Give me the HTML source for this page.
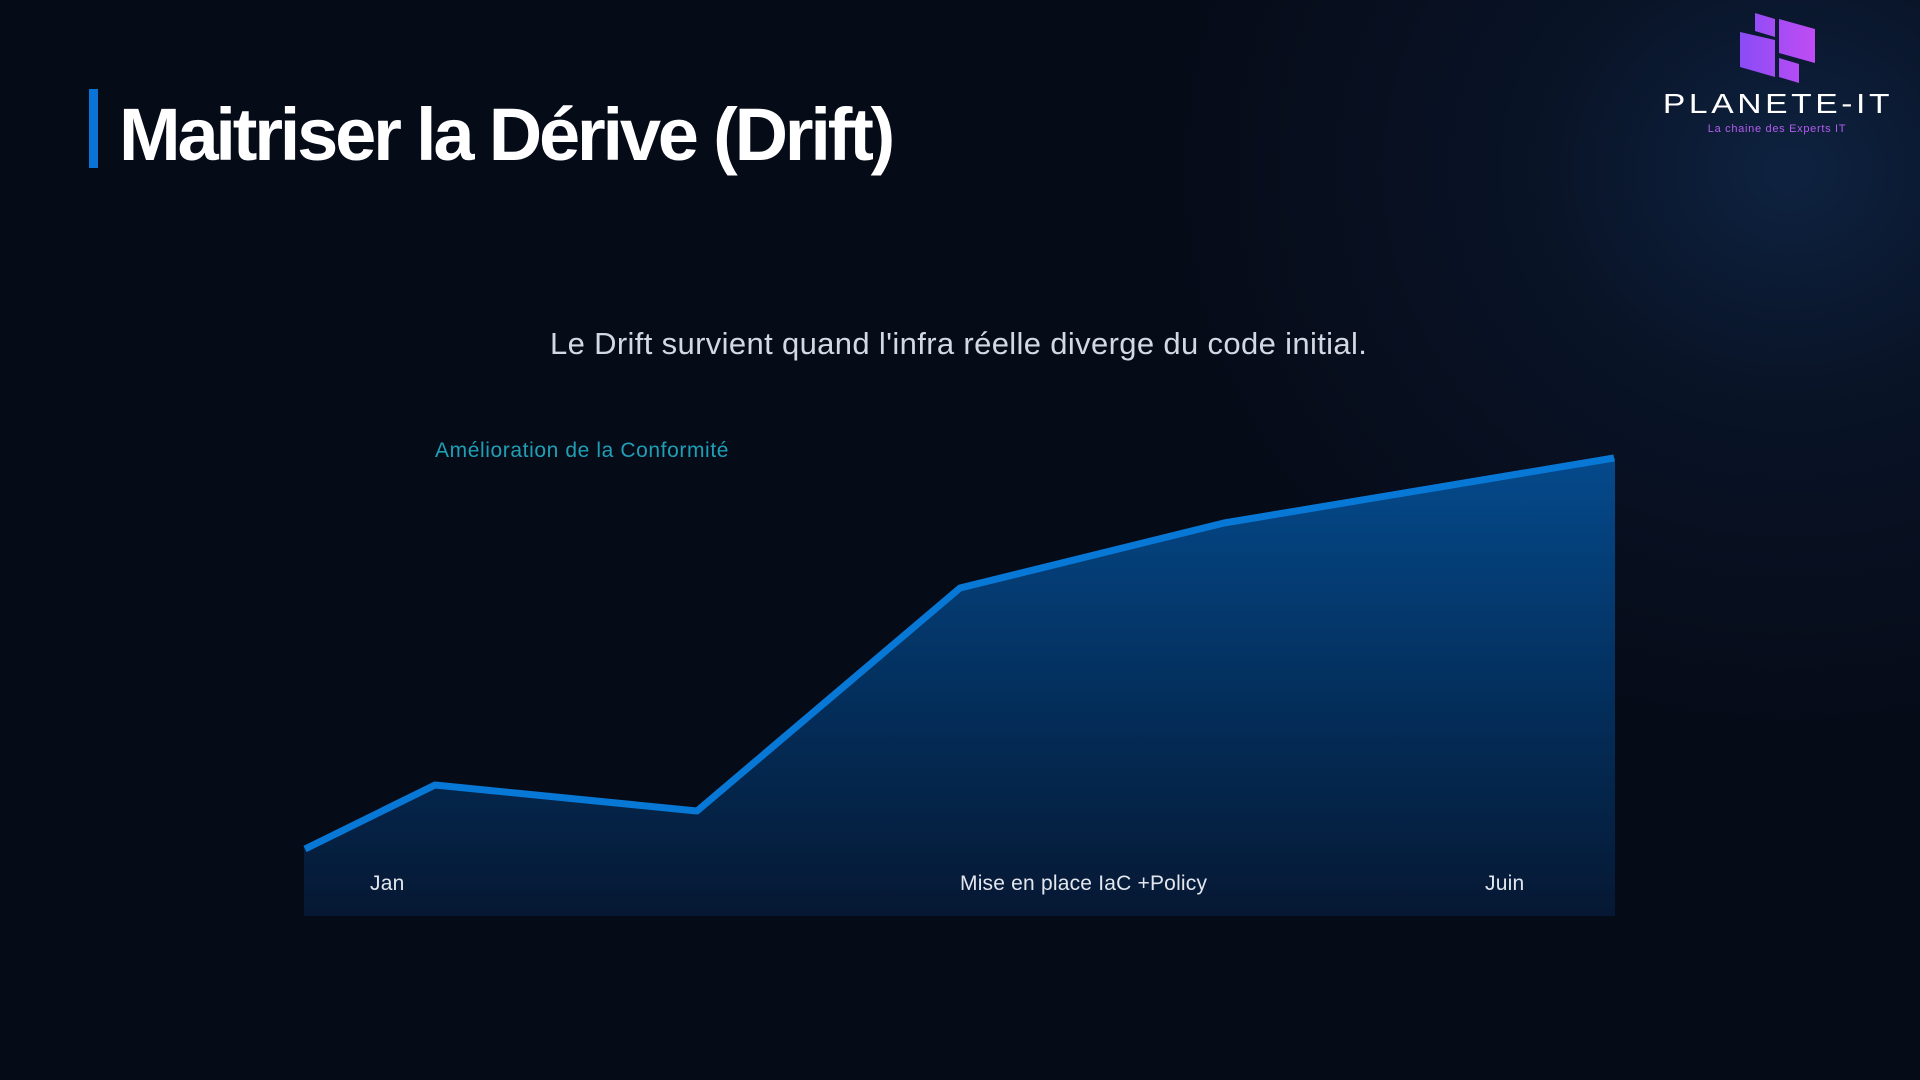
<!DOCTYPE html>
<html>
<head>
<meta charset="utf-8">
<style>
  html, body { margin:0; padding:0; }
  body {
    width:1920px; height:1080px; overflow:hidden; position:relative;
    background:#060b18;
    font-family:"Liberation Sans", sans-serif;
  }
  .glow {
    position:absolute; left:0; top:0; width:1920px; height:1080px;
    background: radial-gradient(ellipse 620px 560px at 1790px 170px, rgba(16,40,74,0.8) 0%, rgba(12,28,54,0.5) 40%, rgba(6,11,24,0) 100%);
  }
  .bar { position:absolute; left:89px; top:89px; width:9px; height:79px; background:#0a74d6; }
  .title {
    position:absolute; left:119px; top:92px; font-size:74px; font-weight:bold; color:#ffffff;
    letter-spacing:-3.2px; line-height:86px; white-space:nowrap;
  }
  .sub {
    position:absolute; left:550px; top:326px; font-size:31px; color:#d4d8e4; line-height:36px;
    letter-spacing:0.35px; white-space:nowrap;
  }
  .legend {
    position:absolute; left:435px; top:438px; font-size:21px; color:#1f9fb6; line-height:26px;
    letter-spacing:0.6px; white-space:nowrap;
  }
  .lbl {
    position:absolute; top:871px; font-size:21px; color:#e2e6ee; line-height:26px;
    letter-spacing:0.2px; white-space:nowrap;
  }
  .brand {
    position:absolute; left:1662px; top:89px; width:232px; text-align:center;
    font-size:28px; color:#ffffff; letter-spacing:3px; line-height:30px; white-space:nowrap;
    transform:scaleX(1.2); transform-origin:50% 50%;
  }
  .tag {
    position:absolute; left:1704px; top:122px; width:146px; text-align:center;
    font-size:11px; color:#b45cf0; letter-spacing:0.7px; line-height:14px; white-space:nowrap;
  }
</style>
</head>
<body>
<div class="glow"></div>

<div class="bar"></div>
<div class="title">Maitriser la Dérive (Drift)</div>

<div class="sub">Le Drift survient quand l'infra réelle diverge du code initial.</div>

<svg style="position:absolute;left:0;top:0" width="1920" height="1080" viewBox="0 0 1920 1080">
  <defs>
    <linearGradient id="fillg" x1="0" y1="458" x2="0" y2="916" gradientUnits="userSpaceOnUse">
      <stop offset="0" stop-color="#054a8c"/>
      <stop offset="0.5" stop-color="#03305e"/>
      <stop offset="1" stop-color="#061833"/>
    </linearGradient>
    <linearGradient id="logog" x1="1740" y1="0" x2="1815" y2="0" gradientUnits="userSpaceOnUse">
      <stop offset="0" stop-color="#8a4cf6"/>
      <stop offset="1" stop-color="#c04cf4"/>
    </linearGradient>
  </defs>
  <polygon points="304,849 435,785 697,811 960,588 1224,523 1615,458 1615,916 304,916" fill="url(#fillg)"/>
  <polyline points="305,849 435,785 697,811 960,588 1224,523 1614,458" fill="none" stroke="#0878d6" stroke-width="7" stroke-linejoin="round" stroke-linecap="butt"/>

  <!-- logo icon -->
  <polygon points="1755,13 1775,19 1775,37 1755,31" fill="url(#logog)"/>
  <polygon points="1740,32 1775,40 1775,77 1740,67" fill="url(#logog)"/>
  <polygon points="1779,19 1815,29 1815,63 1779,53" fill="url(#logog)"/>
  <polygon points="1779,58 1799,64 1799,83 1779,77" fill="url(#logog)"/>
</svg>

<div class="legend">Amélioration de la Conformité</div>

<div class="lbl" style="left:370px;">Jan</div>
<div class="lbl" style="left:960px;">Mise en place IaC +Policy</div>
<div class="lbl" style="left:1485px;">Juin</div>

<div class="brand">PLANETE-IT</div>
<div class="tag">La chaine des Experts IT</div>
</body>
</html>
